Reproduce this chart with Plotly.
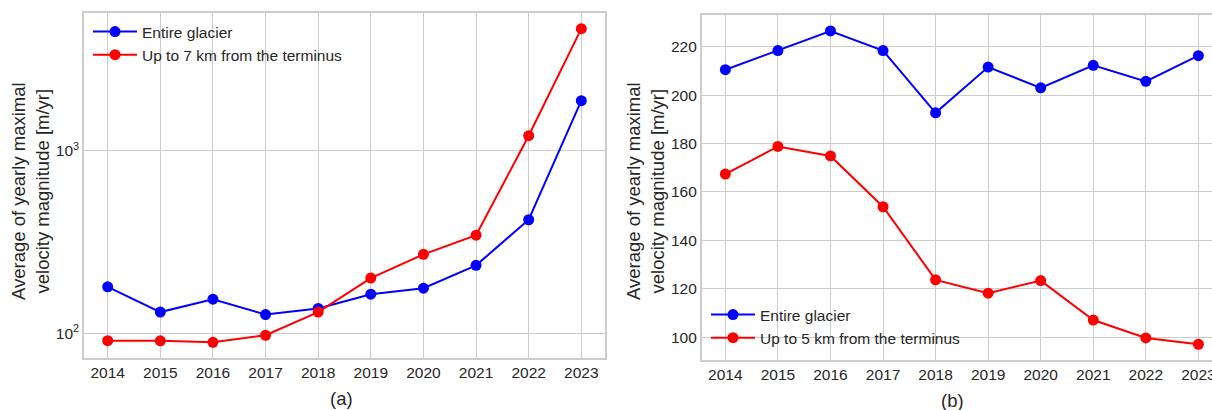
import plotly.graph_objects as go

# Yearly values of the maximal velocity magnitude, averaged [m/yr]
years = [2014, 2015, 2016, 2017, 2018, 2019, 2020, 2021, 2022, 2023]

# Panel (a): log scale
a_entire = [180, 131, 154, 127, 137, 164, 177, 236, 419, 1877]
a_near_7km = [91.3, 91.2, 89.5, 97.8, 131, 201, 271, 345, 1208, 4650]

# Panel (b): linear scale
b_entire = [210.5, 218.4, 226.5, 218.4, 192.7, 211.6, 203.0, 212.3, 205.7, 216.3]
b_near_5km = [167.4, 178.8, 174.9, 153.9, 123.7, 118.2, 123.4, 107.1, 99.7, 97.1]

a_yticks = [100, 1000]
a_yticklabels = ["10<sup>2</sup>", "10<sup>3</sup>"]
b_yticks = [100, 120, 140, 160, 180, 200, 220]

W, H = 1212, 410
FONT = "Liberation Sans, Arial, sans-serif"
TXT = "#262626"
GRID = "#cccccc"
BLUE = "#0000ff"
RED = "#ff0000"
TICK_SIZE = 15.5
LEG_SIZE = 15.5


def px_x(p):
    return p / W


def px_y(p):
    return 1 - p / H


fig = go.Figure()

series = [
    ("x", "y", "legend", a_entire, "Entire glacier", BLUE),
    ("x", "y", "legend", a_near_7km, "Up to 7 km from the terminus", RED),
    ("x2", "y2", "legend2", b_entire, "Entire glacier", BLUE),
    ("x2", "y2", "legend2", b_near_5km, "Up to 5 km from the terminus", RED),
]
for xa, ya, lg, vals, name, col in series:
    fig.add_trace(go.Scatter(
        x=years, y=vals, name=name, mode="lines+markers",
        xaxis=xa, yaxis=ya, legend=lg,
        line=dict(color=col, width=2),
        marker=dict(color=col, size=11),
    ))

common_x = dict(
    tickvals=years, ticktext=[str(y) for y in years],
    showgrid=True, gridcolor=GRID, gridwidth=1,
    showline=True, linecolor=GRID, linewidth=1.5,
    ticks="", zeroline=False, automargin=False,
    ticklabeloverflow="allow",
    tickfont=dict(family=FONT, size=TICK_SIZE, color=TXT),
)

legend_common = dict(
    xanchor="left", yanchor="top", itemwidth=44,
    bgcolor="rgba(0,0,0,0)", borderwidth=0,
    font=dict(family=FONT, size=LEG_SIZE, color=TXT),
)

fig.update_layout(
    width=W, height=H,
    margin=dict(l=0, r=0, t=0, b=0),
    paper_bgcolor="white", plot_bgcolor="white",
    font=dict(family=FONT, color=TXT),
    xaxis=dict(common_x, domain=[px_x(84), px_x(605)],
               range=[2013.55, 2023.45], mirror=True, anchor="y"),
    yaxis=dict(type="log", domain=[px_y(358), px_y(13.3)],
               range=[1.866, 3.7516],
               tickvals=a_yticks, ticktext=a_yticklabels,
               showgrid=True, gridcolor=GRID, gridwidth=1,
               showline=True, linecolor=GRID, linewidth=1.5, mirror=True,
               ticks="", zeroline=False, automargin=False, anchor="x",
               tickfont=dict(family=FONT, size=TICK_SIZE, color=TXT)),
    xaxis2=dict(common_x, domain=[px_x(701.7), 1.0],
                range=[2013.55, 2013.55 + (W - 701.7) / 52.56],
                mirror=True, anchor="y2"),
    yaxis2=dict(domain=[px_y(360), px_y(15)], range=[90.6, 233.1],
                tickvals=b_yticks, ticktext=[str(v) for v in b_yticks],
                showgrid=True, gridcolor=GRID, gridwidth=1,
                showline=True, linecolor=GRID, linewidth=1.5, mirror=False,
                ticks="", zeroline=False, automargin=False, anchor="x2",
                tickfont=dict(family=FONT, size=TICK_SIZE, color=TXT)),
    legend=dict(legend_common, x=px_x(88), y=px_y(15)),
    legend2=dict(legend_common, x=px_x(706), y=px_y(298)),
)

ytitle = "Average of yearly maximal<br>velocity magnitude [m/yr]"
for cx in (30, 645):
    fig.add_annotation(
        text=ytitle, xref="paper", yref="paper",
        x=px_x(cx), y=px_y(191), xanchor="center", yanchor="middle",
        textangle=-90, showarrow=False,
        font=dict(family=FONT, size=18.5, color=TXT),
    )

for label, cx, cy in (("(a)", 341, 398), ("(b)", 952, 400)):
    fig.add_annotation(
        text=label, xref="paper", yref="paper",
        x=px_x(cx), y=px_y(cy), xanchor="center", yanchor="middle",
        showarrow=False, font=dict(family=FONT, size=18.5, color=TXT),
    )

fig.write_html("out.html")
